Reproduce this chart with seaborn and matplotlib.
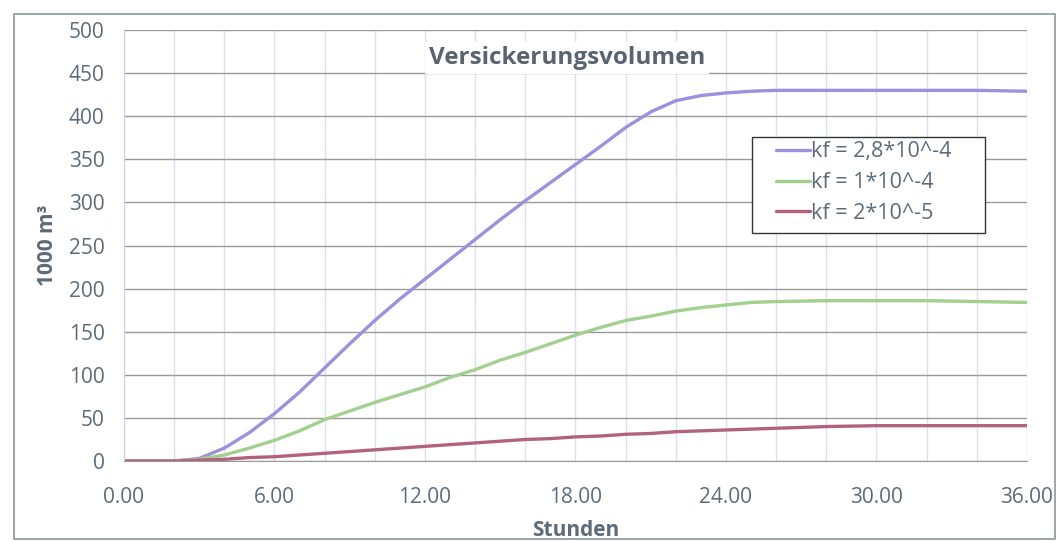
import numpy as np
import pandas as pd
import matplotlib
matplotlib.use("Agg")
import matplotlib.pyplot as plt
import seaborn as sns
from matplotlib.ticker import MultipleLocator, FormatStrFormatter
from matplotlib.patches import Rectangle

# data (hours, 1000 m3)
hours = [0, 1, 2, 3, 4, 5, 6, 7, 8, 9, 10, 11, 12, 13, 14, 15, 16, 17, 18,
         19, 20, 21, 22, 23, 24, 25, 26, 28, 30, 32, 34, 36]
kf_28e4 = [0, 0, 0, 3, 15, 33, 55, 80, 108, 136, 163, 188, 211, 234, 257, 280, 302, 323, 344,
           365, 387, 405, 418, 424, 427, 429, 430, 430, 430, 430, 430, 429]
kf_1e4 = [0, 0, 0, 2, 7, 15, 24, 35, 48, 58, 68, 77, 86, 97, 106, 117, 126, 136, 146,
          155, 163, 168, 174, 178, 181, 184, 185, 186, 186, 186, 185, 184]
kf_2e5 = [0, 0, 0, 1, 2, 4, 5, 7, 9, 11, 13, 15, 17, 19, 21, 23, 25, 26, 28,
          29, 31, 32, 34, 35, 36, 37, 38, 40, 41, 41, 41, 41]
labels = ["kf = 2,8*10^-4", "kf = 1*10^-4", "kf = 2*10^-5"]
colors = ["#9d90dc", "#a2d08e", "#b3627e"]

df = pd.concat([
    pd.DataFrame({"Stunden": hours, "Volumen": v, "Serie": lab})
    for v, lab in zip([kf_28e4, kf_1e4, kf_2e5], labels)
])

sns.set_style("white")
plt.rcParams["font.family"] = ["Open Sans", "DejaVu Sans"]
text_col = "#5d6b78"

fig = plt.figure(figsize=(10.57, 5.42), dpi=100)
ax = fig.add_axes([0.1173, 0.1494, 0.8543, 0.7952])

sns.lineplot(data=df, x="Stunden", y="Volumen", hue="Serie", palette=colors,
             linewidth=2.4, ax=ax)

ax.set_xlim(0, 36)
ax.set_ylim(0, 500)
ax.xaxis.set_major_locator(MultipleLocator(6))
ax.xaxis.set_minor_locator(MultipleLocator(2))
ax.xaxis.set_major_formatter(FormatStrFormatter("%.2f"))
ax.yaxis.set_major_locator(MultipleLocator(50))
ax.grid(which="minor", axis="x", color="#dcdff2", linewidth=1)
ax.grid(which="major", axis="x", color="#dcdff2", linewidth=1)
ax.grid(which="major", axis="y", color="#9a9a9a", linewidth=1)
ax.set_axisbelow(True)
ax.tick_params(axis="both", which="major", labelsize=15, colors=text_col)
ax.tick_params(axis="x", which="major", color="#c8cce6", length=5, pad=14)
ax.tick_params(axis="y", which="major", color="#9a9a9a", length=5, pad=9)
ax.tick_params(which="minor", length=0)
for s in ["top", "right"]:
    ax.spines[s].set_visible(False)
ax.spines["left"].set_color("#c8cce6")
ax.spines["bottom"].set_color("#9a9a9a")

ax.set_xlabel("Stunden", fontsize=15, fontweight="bold", color=text_col, labelpad=8)
ax.set_ylabel("1000 m³", fontsize=15, fontweight="bold", color=text_col, labelpad=8)

ax.text(0.4906, 0.935, "Versickerungsvolumen", transform=ax.transAxes,
        ha="center", va="center", fontsize=17.5, fontweight="bold", color="#5a6470",
        bbox=dict(facecolor="white", edgecolor="none", pad=3))

# legend box drawn separately so the padding matches the original
ax.add_patch(Rectangle((0.6955, 0.529), 0.258, 0.2227, transform=ax.transAxes,
                       facecolor="white", edgecolor="#333333", linewidth=1,
                       zorder=4.5))
leg = ax.legend(title=None, loc="upper left", bbox_to_anchor=(0.722, 0.742),
                fontsize=15.5, frameon=False, handlelength=1.6,
                handletextpad=0.05, borderpad=0, labelspacing=0.46,
                borderaxespad=0)
leg.set_zorder(6)
for t in leg.get_texts():
    t.set_color(text_col)

fig.patches.append(Rectangle((0.013, 0.005), 0.985, 0.97, transform=fig.transFigure,
                             fill=False, edgecolor="#8a96a0", linewidth=1.2))

fig.savefig("out.png", dpi=100)
